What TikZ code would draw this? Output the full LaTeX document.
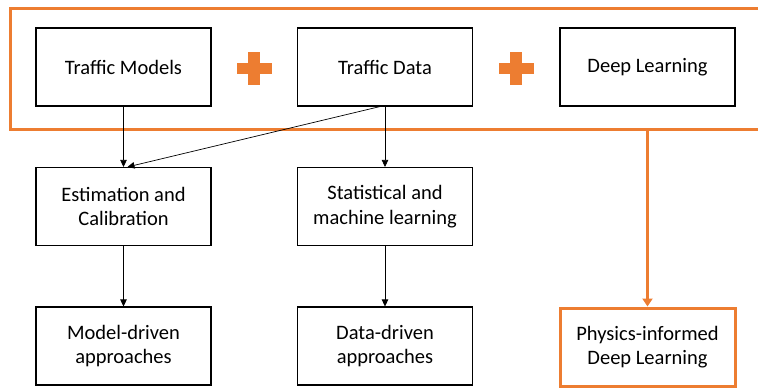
\documentclass[tikz,border=0pt]{standalone}
\usepackage{fontspec}
\setmainfont{Carlito}
\usetikzlibrary{arrows.meta}
\definecolor{pptorange}{HTML}{ED7D31}

\begin{document}
\begin{tikzpicture}[x=1pt, y=-1pt, >={Triangle[length=7pt, width=6.5pt]},
	box/.style={draw, line width=1.1pt, minimum width=175pt, minimum height=78pt, inner sep=0pt,
		align=center, font=\fontsize{20.5}{24.5}\selectfont},
	orangebox/.style={box, draw=pptorange, line width=3pt},
	link/.style={->, line width=0.7pt}]
	\clip (0,0) rectangle (758,388);
	
	% orange frame around the three ingredients
	\node[draw=pptorange, line width=3pt, minimum width=760pt, minimum height=121pt, inner sep=0pt] (frame) at (390, 68.5) {};
	
	% top row
	\node[box] (tm) at (123.5, 67) {Traffic Models};
	\node[box] (td) at (385, 67) {Traffic Data};
	\node[box] (dl) at (647.5, 67) {Deep Learning};
	
	% plus signs
	\foreach \p in {254, 516} {
		\fill[pptorange] (\p-5.8, 51.5) rectangle (\p+5.8, 85);
		\fill[pptorange] (\p-17.5, 63) rectangle (\p+17.5, 73.5);
	}
	
	% middle row
	\node[box] (est) at (123.5, 206.5) {Estimation and\\Calibration};
	\node[box] (stat) at (385, 206.5) {Statistical and\\machine learning};
	
	% bottom row
	\node[box] (model) at (123.5, 346) {Model-driven\\approaches};
	\node[box] (data) at (385, 346) {Data-driven\\approaches};
	\node[orangebox] (pidl) at (647.5, 347) {Physics-informed\\Deep Learning};
	
	% arrows
	\draw[link] (tm) -- (est);
	\draw[link] ([xshift=-5pt]td.south) -- ([xshift=4pt]est.north);
	\draw[link] (td) -- (stat);
	\draw[link] (est) -- (model);
	\draw[link] (stat) -- (data);
	\draw[->, draw=pptorange, fill=pptorange, line width=3pt, >={Triangle[length=8pt, width=10pt]}]
		(frame.south -| pidl.north) -- (pidl.north);
\end{tikzpicture}
\end{document}
